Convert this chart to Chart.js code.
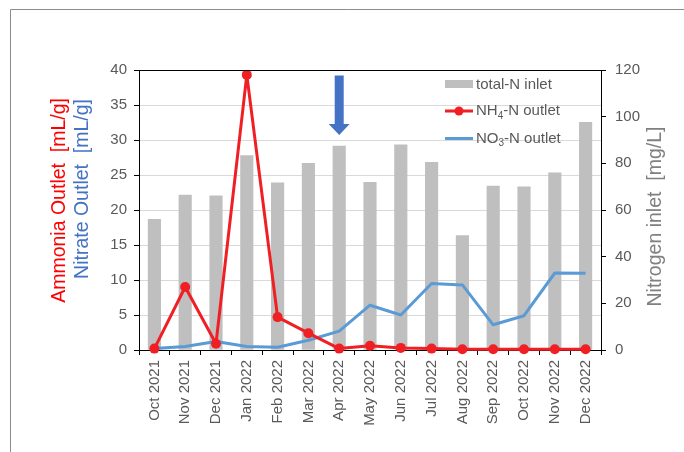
<!DOCTYPE html>
<html>
<head>
<meta charset="utf-8">
<script src="https://cdn.jsdelivr.net/npm/chart.js@4/dist/chart.umd.min.js"></script>
<style>
  html, body { margin: 0; padding: 0; background: #fff; }
  #wrap { position: relative; width: 684px; height: 452px; }
</style>
</head>
<body>
<div id="wrap"><canvas id="chartN"></canvas></div>
<script>
const months = ['Oct 2021','Nov 2021','Dec 2021','Jan 2022','Feb 2022','Mar 2022','Apr 2022',
  'May 2022','Jun 2022','Jul 2022','Aug 2022','Sep 2022','Oct 2022','Nov 2022','Dec 2022'];
const totalNInlet = [56, 66.4, 66.1, 83.3, 71.6, 80, 87.4, 71.9, 87.9, 80.4, 49, 70.3, 69.9, 75.9, 97.6];
const nh4Outlet = [0.2, 9.0, 0.9, 39.3, 4.7, 2.4, 0.2, 0.6, 0.3, 0.2, 0.1, 0.1, 0.1, 0.1, 0.1];
const no3Outlet = [0.2, 0.5, 1.2, 0.5, 0.4, 1.4, 2.7, 6.4, 5.0, 9.5, 9.3, 3.6, 4.9, 11.0, 10.95];

// arrow marking Apr 2022 (left-axis units)
const arrowAt = 'Apr 2022';
const arrowTop = 39.2, arrowBottom = 30.7;

const RED = '#EF1F24', BLUE = '#5B9BD5', GREY = '#BFBFBF', TXT = '#595959';
const FONT = 'Liberation Sans, Arial, sans-serif';

const extras = {
  id: 'extras',
  afterDatasetsDraw(chart) {
    const { ctx, chartArea: a, scales } = chart;
    ctx.save();
    // outer frame
    ctx.strokeStyle = '#8C8C8C';
    ctx.lineWidth = 1;
    ctx.beginPath();
    ctx.moveTo(10.5, 452); ctx.lineTo(10.5, 9.5); ctx.lineTo(684, 9.5);
    ctx.stroke();
    // top border of plot
    ctx.strokeStyle = '#000';
    ctx.beginPath();
    ctx.moveTo(a.left, a.top + 0.5); ctx.lineTo(a.right, a.top + 0.5);
    ctx.stroke();

    // arrow
    const ax = scales.x.getPixelForValue(months.indexOf(arrowAt));
    const yt = scales.y.getPixelForValue(arrowTop);
    const yb = scales.y.getPixelForValue(arrowBottom);
    const head = 11;
    ctx.fillStyle = '#4472C4';
    ctx.beginPath();
    ctx.moveTo(ax - 4.5, yt); ctx.lineTo(ax + 4.5, yt);
    ctx.lineTo(ax + 4.5, yb - head); ctx.lineTo(ax + 10.5, yb - head);
    ctx.lineTo(ax, yb); ctx.lineTo(ax - 10.5, yb - head);
    ctx.lineTo(ax - 4.5, yb - head); ctx.closePath();
    ctx.fill();

    // axis titles
    ctx.textBaseline = 'middle';
    ctx.font = '19.5px ' + FONT;
    ctx.save();
    ctx.translate(59.5, 98); ctx.rotate(-Math.PI / 2);
    ctx.textAlign = 'right'; ctx.fillStyle = '#FF0000';
    ctx.fillText('Ammonia Outlet  [mL/g]', 0, 0);
    ctx.restore();
    ctx.save();
    ctx.translate(83, 99); ctx.rotate(-Math.PI / 2);
    ctx.textAlign = 'right'; ctx.fillStyle = '#4472C4';
    ctx.fillText('Nitrate Outlet  [mL/g]', 0, 0);
    ctx.restore();
    ctx.save();
    ctx.translate(656, 216.5); ctx.rotate(-Math.PI / 2);
    ctx.textAlign = 'center'; ctx.fillStyle = '#808080';
    ctx.fillText('Nitrogen inlet  [mg/L]', 0, 0);
    ctx.restore();

    // legend
    const lx = 445, tx = 476;
    ctx.textAlign = 'left';
    ctx.fillStyle = GREY;
    ctx.fillRect(lx, 80, 28, 8);
    const sub = (y, a1, s, a2) => {
      ctx.fillStyle = TXT;
      ctx.font = '15px ' + FONT;
      ctx.fillText(a1, tx, y);
      let w = ctx.measureText(a1).width;
      ctx.font = '10px ' + FONT;
      ctx.fillText(s, tx + w, y + 5);
      w += ctx.measureText(s).width;
      ctx.font = '15px ' + FONT;
      ctx.fillText(a2, tx + w, y);
    };
    ctx.fillStyle = TXT;
    ctx.font = '15px ' + FONT;
    ctx.fillText('total-N inlet', tx, 84.5);
    ctx.strokeStyle = RED; ctx.lineWidth = 3;
    ctx.beginPath(); ctx.moveTo(lx, 111); ctx.lineTo(lx + 28, 111); ctx.stroke();
    ctx.fillStyle = RED;
    ctx.beginPath(); ctx.arc(lx + 14, 111, 4.5, 0, Math.PI * 2); ctx.fill();
    sub(111, 'NH', '4', '-N outlet');
    ctx.strokeStyle = BLUE;
    ctx.beginPath(); ctx.moveTo(lx, 138.5); ctx.lineTo(lx + 28, 138.5); ctx.stroke();
    sub(138.5, 'NO', '3', '-N outlet');
    ctx.restore();
  }
};

new Chart(document.getElementById('chartN'), {
  type: 'bar',
  data: {
    labels: months,
    datasets: [
      { type: 'line', label: 'NH4-N outlet', data: nh4Outlet, yAxisID: 'y', order: 1,
        borderColor: RED, backgroundColor: RED, borderWidth: 3, pointRadius: 5,
        pointBorderWidth: 0, tension: 0, clip: false, borderJoinStyle: 'round' },
      { type: 'line', label: 'NO3-N outlet', data: no3Outlet, yAxisID: 'y', order: 2,
        borderColor: BLUE, borderWidth: 3, pointRadius: 0, tension: 0, borderJoinStyle: 'round' },
      { label: 'total-N inlet', data: totalNInlet, yAxisID: 'y1', order: 3,
        backgroundColor: GREY, barThickness: 12.5 }
    ]
  },
  options: {
    responsive: true,
    maintainAspectRatio: false,
    animation: false,
    layout: { padding: { top: 70, left: 0, right: 0, bottom: 0 } },
    plugins: { legend: { display: false }, tooltip: { enabled: false } },
    scales: {
      x: {
        offset: true,
        grid: { drawOnChartArea: false, drawTicks: true, tickLength: 5, tickColor: '#000', offset: true },
        border: { color: '#000', width: 1 },
        ticks: { minRotation: 90, maxRotation: 90, autoSkip: false, padding: 5,
          color: TXT, font: { size: 15, family: FONT } },
        afterFit: s => { s.height = 102; }
      },
      y: {
        position: 'left', min: 0, max: 40,
        ticks: { stepSize: 5, padding: 7, color: TXT, font: { size: 15, family: FONT } },
        grid: { color: '#D9D9D9', tickColor: '#000', tickLength: 5 },
        border: { color: '#000', width: 1 },
        afterFit: s => { s.width = 139; }
      },
      y1: {
        position: 'right', min: 0, max: 120,
        ticks: { stepSize: 20, padding: 9, color: TXT, font: { size: 15, family: FONT } },
        grid: { drawOnChartArea: false, tickColor: '#000', tickLength: 5 },
        border: { color: '#000', width: 1 },
        afterFit: s => { s.width = 83; }
      }
    }
  },
  plugins: [extras]
});
</script>
</body>
</html>
